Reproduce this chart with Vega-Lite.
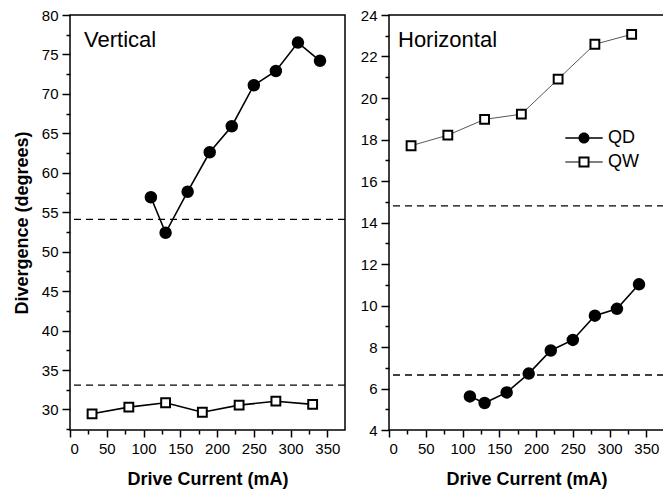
{
  "$schema": "https://vega.github.io/schema/vega-lite/v6.json",
  "background": "white",
  "padding": {"left": 12, "top": 7, "right": 0, "bottom": 0},
  "spacing": 12,
  "resolve": {"scale": {"shape": "independent", "fill": "independent", "size": "independent", "color": "independent", "strokeWidth": "independent"}},
  "config": {
    "font": "Liberation Sans",
    "view": {"stroke": "black", "strokeWidth": 1.5},
    "axis": {
      "domain": false, "grid": false, "labelOverlap": false,
      "tickColor": "black", "tickWidth": 1.5,
      "labelFont": "Liberation Sans", "labelFontSize": 15, "labelColor": "black", "labelPadding": 4,
      "titleFont": "Liberation Sans", "titleFontSize": 18, "titleFontWeight": "bold", "titleColor": "black"
    },
    "title": {"font": "Liberation Sans", "fontSize": 22, "fontWeight": "normal", "color": "black", "anchor": "start", "frame": "group", "offset": 0}
  },
  "datasets": {
    "pts": [
      {"panel": "Vertical", "series": "QD", "current": 110, "divergence": 56.9},
      {"panel": "Vertical", "series": "QD", "current": 130, "divergence": 52.4},
      {"panel": "Vertical", "series": "QD", "current": 160, "divergence": 57.6},
      {"panel": "Vertical", "series": "QD", "current": 190, "divergence": 62.6},
      {"panel": "Vertical", "series": "QD", "current": 220, "divergence": 65.9},
      {"panel": "Vertical", "series": "QD", "current": 250, "divergence": 71.1},
      {"panel": "Vertical", "series": "QD", "current": 280, "divergence": 72.9},
      {"panel": "Vertical", "series": "QD", "current": 310, "divergence": 76.5},
      {"panel": "Vertical", "series": "QD", "current": 340, "divergence": 74.2},
      {"panel": "Vertical", "series": "QW", "current": 30, "divergence": 29.45},
      {"panel": "Vertical", "series": "QW", "current": 80, "divergence": 30.3},
      {"panel": "Vertical", "series": "QW", "current": 130, "divergence": 30.85},
      {"panel": "Vertical", "series": "QW", "current": 180, "divergence": 29.65},
      {"panel": "Vertical", "series": "QW", "current": 230, "divergence": 30.55},
      {"panel": "Vertical", "series": "QW", "current": 280, "divergence": 31.05},
      {"panel": "Vertical", "series": "QW", "current": 330, "divergence": 30.65},
      {"panel": "Horizontal", "series": "QD", "current": 110, "divergence": 5.62},
      {"panel": "Horizontal", "series": "QD", "current": 130, "divergence": 5.3},
      {"panel": "Horizontal", "series": "QD", "current": 160, "divergence": 5.81},
      {"panel": "Horizontal", "series": "QD", "current": 190, "divergence": 6.72},
      {"panel": "Horizontal", "series": "QD", "current": 220, "divergence": 7.83},
      {"panel": "Horizontal", "series": "QD", "current": 250, "divergence": 8.34},
      {"panel": "Horizontal", "series": "QD", "current": 280, "divergence": 9.51},
      {"panel": "Horizontal", "series": "QD", "current": 310, "divergence": 9.84},
      {"panel": "Horizontal", "series": "QD", "current": 340, "divergence": 11.02},
      {"panel": "Horizontal", "series": "QW", "current": 30, "divergence": 17.7},
      {"panel": "Horizontal", "series": "QW", "current": 80, "divergence": 18.21},
      {"panel": "Horizontal", "series": "QW", "current": 130, "divergence": 18.97},
      {"panel": "Horizontal", "series": "QW", "current": 180, "divergence": 19.22},
      {"panel": "Horizontal", "series": "QW", "current": 230, "divergence": 20.91},
      {"panel": "Horizontal", "series": "QW", "current": 280, "divergence": 22.59},
      {"panel": "Horizontal", "series": "QW", "current": 330, "divergence": 23.07}
    ],
    "ref": [
      {"panel": "Vertical", "level": 54.1},
      {"panel": "Vertical", "level": 33.1},
      {"panel": "Horizontal", "level": 14.8},
      {"panel": "Horizontal", "level": 6.65}
    ]
  },
  "hconcat": [
    {
      "width": 275,
      "height": 415,
      "title": {"text": "Vertical", "dx": 14, "dy": 48},
      "resolve": {"axis": {"x": "independent", "y": "independent"}},
      "layer": [
        {
          "data": {"name": "ref"},
          "transform": [{"filter": "datum.panel === 'Vertical'"}],
          "mark": {"type": "rule", "color": "black", "strokeWidth": 1.3, "strokeDash": [7, 5]},
          "encoding": {
            "y": {"field": "level", "type": "quantitative", "title": "Divergence (degrees)",
                  "scale": {"domain": [27.4, 80], "nice": false, "zero": false},
                  "axis": {"orient": "left", "values": [30,35,40,45,50,55,60,65,70,75,80], "tickSize": 8, "titlePadding": 10}}
          }
        },
        {
          "data": {"name": "pts"},
          "transform": [{"filter": "datum.panel === 'Vertical'"}],
          "mark": {"type": "line", "color": "black", "strokeWidth": 1.6},
          "encoding": {
            "x": {"field": "current", "type": "quantitative", "title": "Drive Current (mA)",
                  "scale": {"domain": [0, 374], "nice": false},
                  "axis": {"orient": "bottom", "values": [0,50,100,150,200,250,300,350], "tickSize": 7, "titlePadding": 14}},
            "y": {"field": "divergence", "type": "quantitative", "scale": {"domain": [27.4, 80], "nice": false, "zero": false}, "axis": null},
            "detail": {"field": "series", "type": "nominal"}
          }
        },
        {
          "data": {"name": "pts"},
          "transform": [{"filter": "datum.panel === 'Vertical'"}],
          "mark": {"type": "point", "stroke": "black", "strokeWidth": 2, "opacity": 1},
          "encoding": {
            "x": {"field": "current", "type": "quantitative", "scale": {"domain": [0, 374], "nice": false},
                  "axis": {"orient": "bottom", "values": [25,75,125,175,225,275,325], "tickSize": 4, "labels": false, "title": null}},
            "y": {"field": "divergence", "type": "quantitative", "scale": {"domain": [27.4, 80], "nice": false, "zero": false},
                  "axis": {"orient": "left", "values": [27.5,32.5,37.5,42.5,47.5,52.5,57.5,62.5,67.5,72.5,77.5], "tickSize": 4, "labels": false, "title": null}},
            "shape": {"field": "series", "type": "nominal", "scale": {"domain": ["QD", "QW"], "range": ["circle", "square"]}, "legend": null},
            "fill": {"field": "series", "type": "nominal", "scale": {"domain": ["QD", "QW"], "range": ["black", "white"]}, "legend": null},
            "size": {"field": "series", "type": "nominal", "scale": {"domain": ["QD", "QW"], "range": [110, 78]}, "legend": null}
          }
        }
      ]
    },
    {
      "width": 275,
      "height": 415,
      "title": {"text": "Horizontal", "dx": 9, "dy": 48},
      "resolve": {"axis": {"x": "independent", "y": "independent"}, "scale": {"shape": "independent", "fill": "independent"}},
      "layer": [
        {
          "data": {"name": "ref"},
          "transform": [{"filter": "datum.panel === 'Horizontal'"}],
          "mark": {"type": "rule", "color": "black", "strokeWidth": 1.3, "strokeDash": [7, 5]},
          "encoding": {
            "y": {"field": "level", "type": "quantitative", "title": null,
                  "scale": {"domain": [4, 24], "nice": false, "zero": false},
                  "axis": {"orient": "left", "values": [4,6,8,10,12,14,16,18,20,22,24], "tickSize": 8}}
          }
        },
        {
          "data": {"name": "pts"},
          "transform": [{"filter": "datum.panel === 'Horizontal'"}],
          "mark": {"type": "line"},
          "encoding": {
            "x": {"field": "current", "type": "quantitative", "title": "Drive Current (mA)",
                  "scale": {"domain": [0, 374], "nice": false},
                  "axis": {"orient": "bottom", "values": [0,50,100,150,200,250,300,350], "tickSize": 7, "titlePadding": 14}},
            "y": {"field": "divergence", "type": "quantitative", "scale": {"domain": [4, 24], "nice": false, "zero": false}, "axis": null},
            "color": {"field": "series", "type": "nominal", "scale": {"domain": ["QD", "QW"], "range": ["black", "#444444"]}, "legend": null},
            "strokeWidth": {"field": "series", "type": "nominal", "scale": {"domain": ["QD", "QW"], "range": [1.6, 0.9]}, "legend": null}
          }
        },
        {
          "data": {"name": "pts"},
          "transform": [{"filter": "datum.panel === 'Horizontal'"}],
          "mark": {"type": "point", "stroke": "black", "strokeWidth": 2, "opacity": 1},
          "encoding": {
            "x": {"field": "current", "type": "quantitative", "scale": {"domain": [0, 374], "nice": false},
                  "axis": {"orient": "bottom", "values": [25,75,125,175,225,275,325], "tickSize": 4, "labels": false, "title": null}},
            "y": {"field": "divergence", "type": "quantitative", "scale": {"domain": [4, 24], "nice": false, "zero": false},
                  "axis": {"orient": "left", "values": [5,7,9,11,13,15,17,19,21,23], "tickSize": 4, "labels": false, "title": null}},
            "shape": {"field": "series", "type": "nominal", "scale": {"domain": ["QD", "QW"], "range": ["circle", "square"]}, "legend": null},
            "fill": {"field": "series", "type": "nominal", "scale": {"domain": ["QD", "QW"], "range": ["black", "white"]}, "legend": null},
            "size": {"field": "series", "type": "nominal", "scale": {"domain": ["QD", "QW"], "range": [110, 78]}, "legend": null}
          }
        },
        {
          "data": {"name": "pts"},
          "transform": [{"filter": "datum.panel === 'Horizontal'"}],
          "mark": {"type": "point", "filled": true, "color": "black", "fill": "black", "strokeWidth": 0, "opacity": 0},
          "encoding": {
            "x": {"field": "current", "type": "quantitative", "scale": {"domain": [0, 374], "nice": false}, "axis": null},
            "y": {"field": "divergence", "type": "quantitative", "scale": {"domain": [4, 24], "nice": false, "zero": false}, "axis": null},
            "shape": {"field": "series", "type": "nominal",
                      "scale": {"domain": ["QD", "QW"], "range": [
                        "M-3.4,-0.14H3.4V0.14H-3.4Z M-1,0A1,1,0,1,1,1,0A1,1,0,1,1,-1,0Z",
                        "M-3.4,-0.09H-1V0.09H-3.4Z M1,-0.09H3.4V0.09H1Z M-1,-1H1V1H-1Z M-0.65,-0.65V0.65H0.65V-0.65Z"
                      ]},
                      "legend": {"title": null, "orient": "none", "legendX": 186, "legendY": 114, "padding": 0,
                                 "labelFont": "Liberation Sans", "labelFontSize": 18, "labelColor": "black",
                                 "labelOffset": 15, "symbolSize": 121, "rowPadding": 6, "symbolOpacity": 1,
                                 "symbolFillColor": "black", "symbolStrokeWidth": 0}}
          }
        }
      ]
    }
  ]
}
